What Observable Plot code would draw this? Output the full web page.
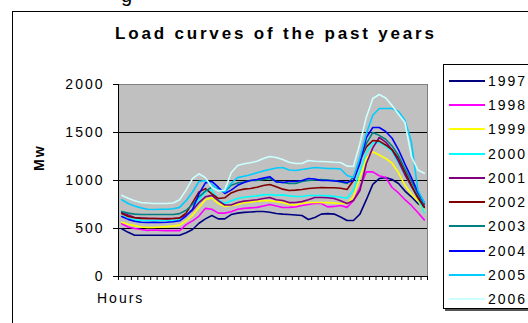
<!DOCTYPE html>
<html>
<head>
<meta charset="utf-8">
<script src="https://cdn.jsdelivr.net/npm/d3@7"></script>
<script src="https://cdn.jsdelivr.net/npm/@observablehq/plot@0.6"></script>
<style>
  html, body { margin: 0; padding: 0; background: #fff; }
  #chart { position: relative; width: 528px; height: 323px; overflow: hidden;
           font-family: "Liberation Sans", Arial, sans-serif; color: #000; }
  #chart svg { position: absolute; left: 0; top: 0; }
  .abs { position: absolute; white-space: nowrap; }
  #border { left: 12px; top: 11px; width: 600px; height: 400px; border: 1.5px solid #000; box-sizing: border-box; }
  #title { top: 25px; left: 115px; font-size: 17px; font-weight: bold; line-height: 18px; }
  #mw { left: 31px; top: 179px; font-size: 14px; font-weight: bold; letter-spacing: 2px;
        transform: translate(0, -50%) rotate(-90deg); transform-origin: left top; }
  #hours { left: 97px; top: 290px; font-size: 14px; letter-spacing: 2px; line-height: 16px; }
  #legend { left: 443px; top: 64px; width: 120px; height: 245px; border: 1px solid #000; box-sizing: border-box;
            background: #fff; box-shadow: 2px 2px 0 #555; }
  .item { position: absolute; left: 5px; height: 16px; font-size: 14px; letter-spacing: 2px; line-height: 16px; }
  .item .swatch { position: absolute; left: 0; top: 7px; width: 36px; height: 2px; }
  .item .lab { position: absolute; left: 39px; top: 0; }
  #cut { left: 121px; top: -16px; font-size: 20px; }
</style>
</head>
<body>
<div id="chart"></div>
<script>
// Hourly load (MW) per half-hour slot, one array per year
const years = [1997, 1998, 1999, 2000, 2001, 2002, 2003, 2004, 2005, 2006];
const colors = ["#000080", "#ff00ff", "#ffff00", "#00ffff", "#800080",
                "#800000", "#008080", "#0000ff", "#00ccff", "#ccffff"];
const yTicks = [0, 500, 1000, 1500, 2000];
const slots = 48;

const s1997 = [497,460,430,430,430,430,430,430,430,430, 455,490,555,600,635,600,600,645,660,668,
               672,677,677,670,656,650,646,640,635,594, 615,650,655,650,620,583,583,650,800,960,
               1020,1030,1010,969,890,830,760,725];
const s1998 = [550,515,500,490,480,485,480,478,478,478, 540,580,630,710,700,660,660,675,700,710,
               715,720,735,750,735,719,720,725,740,750, 760,760,725,730,740,720,790,927,1090,1090,
               1050,1031,927,870,800,740,667,590];
const s1999 = [565,545,530,515,510,510,515,520,525,535, 580,640,720,800,820,760,730,740,750,770,
               775,785,790,790,780,770,750,745,760,771, 771,771,770,765,760,760,830,1030,1230,1300,
               1265,1229,1180,1080,950,860,790,680];
const s2000 = [630,605,590,585,583,583,583,583,583,590, 640,700,800,880,900,800,760,790,813,825,
               833,840,850,854,845,850,840,835,833,844, 844,844,840,835,825,815,900,1100,1290,1390,
               1396,1360,1300,1180,1060,940,820,667];
const s2001 = [667,640,615,610,605,604,604,604,604,608, 640,690,770,830,845,790,745,745,770,785,
               792,800,813,823,800,792,770,771,780,800, 823,823,820,813,790,760,792,896,1177,1340,
               1448,1400,1320,1200,1060,940,830,745];
const s2002 = [656,625,612,605,604,604,602,600,604,610, 660,770,880,915,860,813,820,870,895,910,
               917,930,948,958,935,910,896,900,906,917, 922,927,925,925,920,906,1000,1208,1350,1417,
               1410,1370,1320,1230,1090,950,820,720];
const s2003 = [677,660,650,646,646,646,646,646,646,655, 690,750,830,890,930,920,880,950,975,985,
               1000,1000,1010,1020,990,980,969,969,990,1000, 1005,1010,1005,1000,985,969,1031,1208,1385,1500,
               1470,1430,1360,1260,1120,990,860,760];
const s2004 = [625,595,575,565,563,565,563,565,570,580, 630,700,860,975,990,930,865,900,950,980,
               1000,1010,1025,1040,985,980,990,990,1000,1021, 1015,1000,1000,995,990,979,1000,1177,1448,1552,
               1552,1510,1440,1320,1170,1030,880,770];
const s2005 = [800,760,735,715,700,698,700,700,705,720, 790,880,990,1000,960,900,880,970,1030,1045,
               1060,1080,1100,1115,1130,1135,1110,1104,1115,1125, 1135,1130,1125,1125,1120,1052,1031,1240,1490,1680,
               1750,1750,1750,1720,1625,1400,900,770];
const s2006 = [845,815,790,770,765,760,760,760,765,800, 900,1020,1070,1030,930,890,900,1080,1156,1175,
               1185,1200,1230,1250,1240,1219,1190,1177,1177,1208, 1200,1198,1195,1190,1187,1150,1146,1385,1660,1854,
               1896,1860,1780,1690,1604,1250,1110,1075];

const series = [s1997, s1998, s1999, s2000, s2001, s2002, s2003, s2004, s2005, s2006];

// long-format rows: each value sits in the middle of its half-hour slot
const rows = years.flatMap((yr, k) =>
  series[k].map((mw, i) => ({year: String(yr), slot: i + 0.5, mw})));

const chart = document.getElementById("chart");

const border = document.createElement("div");
border.className = "abs"; border.id = "border";
chart.appendChild(border);

const plot = Plot.plot({
  width: 528,
  height: 323,
  marginLeft: 118,
  marginRight: 101,
  marginTop: 84,
  marginBottom: 47,
  style: {fontFamily: "'Liberation Sans', Arial, sans-serif", fontSize: "14px", color: "#000",
          background: "transparent", overflow: "visible", letterSpacing: "2px"},
  x: {domain: [0, slots], label: null, axis: null},
  y: {domain: [0, 2000], label: null, axis: null},
  color: {domain: years.map(String), range: colors},
  marks: [
    Plot.frame({fill: "#c0c0c0", stroke: "#808080"}),
    Plot.gridY(yTicks.filter(d => d > 0 && d < 2000), {stroke: "#000", strokeOpacity: 1}),
    Plot.lineY(rows, {x: "slot", y: "mw", z: "year", stroke: "year", strokeWidth: 1.6}),
    Plot.ruleY([0], {stroke: "#000"}),
    Plot.ruleX([0], {stroke: "#000"}),
    Plot.axisY({ticks: yTicks, tickSize: 5, tickPadding: 9, tickFormat: d => String(d), label: null, stroke: "#000"}),
    Plot.axisX({ticks: d3.range(slots + 1), tickSize: 4, tickFormat: () => "", label: null, stroke: "#000"})
  ]
});
chart.appendChild(plot);

function addText(id, text) {
  const el = document.createElement("div");
  el.className = "abs"; el.id = id; el.textContent = text;
  chart.appendChild(el);
  return el;
}

addText("cut", "g");

// title stretched across its span
const title = addText("title", "Load curves of the past years");
const natural = title.getBoundingClientRect().width;
const n = title.textContent.length;
title.style.letterSpacing = ((319 - natural) / (n - 1)) + "px";

addText("mw", "Mw");
addText("hours", "Hours");

// legend
const legend = document.createElement("div");
legend.className = "abs"; legend.id = "legend";
chart.appendChild(legend);
years.forEach((yr, k) => {
  const item = document.createElement("div");
  item.className = "item";
  item.style.top = (79.75 + 24.25 * k - 64 - 8) + "px";
  const sw = document.createElement("div");
  sw.className = "swatch"; sw.style.background = colors[k];
  const lab = document.createElement("div");
  lab.className = "lab"; lab.textContent = String(yr);
  item.appendChild(sw); item.appendChild(lab);
  legend.appendChild(item);
});
</script>
</body>
</html>
